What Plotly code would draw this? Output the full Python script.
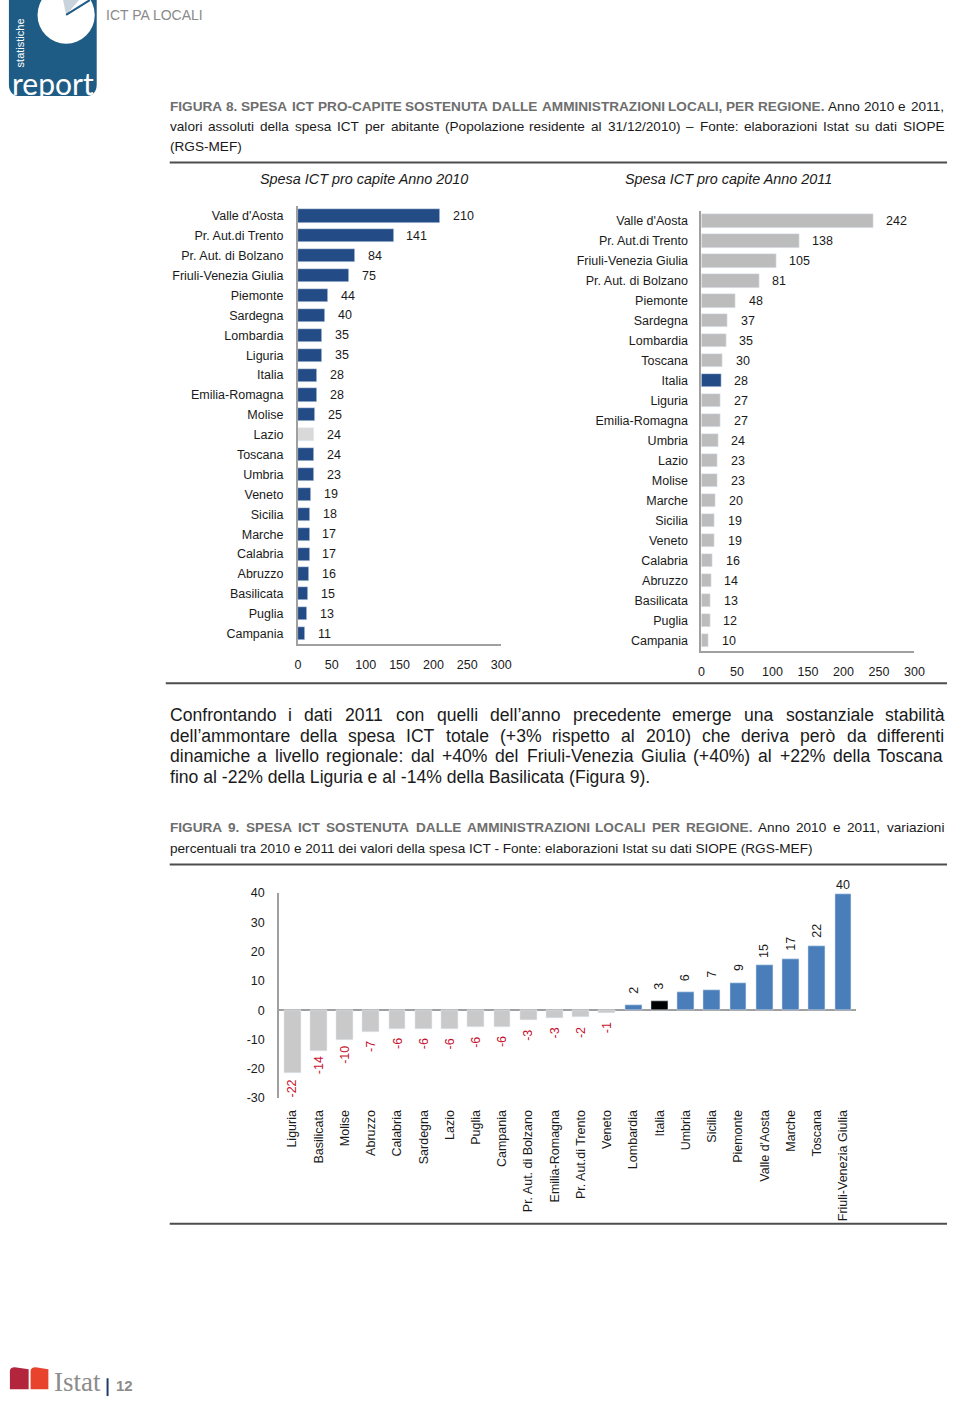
import plotly.graph_objects as go

W, H = 960, 1409
M = 0
FW, FH = W - 2 * M, H - 2 * M


def fx(x):
    return (x - M) / FW


def fy(y):
    return 1 - (y - M) / FH


FONT = "Liberation Sans, Arial, sans-serif"

# ---------------- DATA ----------------
regions_2010 = ["Valle d'Aosta", "Pr. Aut.di Trento", "Pr. Aut. di Bolzano", "Friuli-Venezia Giulia",
                "Piemonte", "Sardegna", "Lombardia", "Liguria", "Italia", "Emilia-Romagna", "Molise",
                "Lazio", "Toscana", "Umbria", "Veneto", "Sicilia", "Marche", "Calabria", "Abruzzo",
                "Basilicata", "Puglia", "Campania"]
values_2010 = [210, 141, 84, 75, 44, 40, 35, 35, 28, 28, 25, 24, 24, 23, 19, 18, 17, 17, 16, 15, 13, 11]

regions_2011 = ["Valle d'Aosta", "Pr. Aut.di Trento", "Friuli-Venezia Giulia", "Pr. Aut. di Bolzano",
                "Piemonte", "Sardegna", "Lombardia", "Toscana", "Italia", "Liguria", "Emilia-Romagna",
                "Umbria", "Lazio", "Molise", "Marche", "Sicilia", "Veneto", "Calabria", "Abruzzo",
                "Basilicata", "Puglia", "Campania"]
values_2011 = [242, 138, 105, 81, 48, 37, 35, 30, 28, 27, 27, 24, 23, 23, 20, 19, 19, 16, 14, 13, 12, 10]

regions_var = ["Liguria", "Basilicata", "Molise", "Abruzzo", "Calabria", "Sardegna", "Lazio", "Puglia",
               "Campania", "Pr. Aut. di Bolzano", "Emilia-Romagna", "Pr. Aut.di Trento", "Veneto",
               "Lombardia", "Italia", "Umbria", "Sicilia", "Piemonte", "Valle d'Aosta", "Marche",
               "Toscana", "Friuli-Venezia Giulia"]
values_var = [-21.5, -13.8, -10.2, -7.4, -6.3, -6.3, -6.3, -5.7, -5.7, -3.5, -2.6, -2.4, -1.0,
              1.6, 3.1, 6.1, 7.0, 9.4, 15.3, 17.5, 22.0, 39.8]
labels_var = ["-22", "-14", "-10", "-7", "-6", "-6", "-6", "-6", "-6", "-3", "-3", "-2", "-1",
              "2", "3", "6", "7", "9", "15", "17", "22", "40"]

x_ticks_fig8 = [0, 50, 100, 150, 200, 250, 300]
y_ticks_fig9 = [-30, -20, -10, 0, 10, 20, 30, 40]
y_ticktext_fig9 = ["-30", "-20", "-10", "0", "10", "20", "30", "40"]

# ---------------- COLOURS ----------------
DARK_BLUE = "#234b85"
LIGHT_GREY = "#d9d9d9"
MID_GREY = "#bcbcbc"
NEG_GREY = "#c9c9c9"
POS_BLUE = "#4a7ebb"
RED = "#c8102e"
AXIS = "#a0a0a0"
TXT = "#1a1a1a"
GREY_T = "#6e6e6e"
FS = 12.5

col_2010 = [LIGHT_GREY if r == "Lazio" else DARK_BLUE for r in regions_2010]
col_2011 = [DARK_BLUE if r == "Italia" else MID_GREY for r in regions_2011]
col_var = ["#000000" if r == "Italia" else (NEG_GREY if v < 0 else POS_BLUE)
           for r, v in zip(regions_var, values_var)]

fig = go.Figure()
fig.add_trace(go.Bar(x=values_2010, y=regions_2010, orientation="h", marker_color=col_2010,
                     width=0.66, xaxis="x", yaxis="y", hoverinfo="x+y"))
fig.add_trace(go.Bar(x=values_2011, y=regions_2011, orientation="h", marker_color=col_2011,
                     width=0.66, xaxis="x2", yaxis="y2", hoverinfo="x+y"))
fig.add_trace(go.Bar(x=regions_var, y=values_var, marker_color=col_var,
                     width=0.64, xaxis="x3", yaxis="y3", hoverinfo="x+y"))

annotations = []

for r, v in zip(regions_2010, values_2010):
    annotations.append(dict(x=v, y=r, xref="x", yref="y", text=str(v), showarrow=False,
                            xanchor="left", xshift=11, font=dict(family=FONT, size=FS, color=TXT)))
for r, v in zip(regions_2011, values_2011):
    annotations.append(dict(x=v, y=r, xref="x2", yref="y2", text=str(v), showarrow=False,
                            xanchor="left", xshift=11, font=dict(family=FONT, size=FS, color=TXT)))

for i, (r, v, lab) in enumerate(zip(regions_var, values_var, labels_var)):
    last = i == len(regions_var) - 1
    if v < 0:
        annotations.append(dict(x=r, y=v, xref="x3", yref="y3", text=lab, showarrow=False,
                                textangle=-90, yanchor="middle", yshift=-15,
                                font=dict(family=FONT, size=FS, color=RED)))
    else:
        annotations.append(dict(x=r, y=v, xref="x3", yref="y3", text=lab, showarrow=False,
                                textangle=0 if last else -90, yanchor="middle",
                                yshift=9 if last else 15,
                                font=dict(family=FONT, size=FS, color=TXT)))


def text(x, y, s, size=12.5, color=TXT, anchor="left", family=FONT, angle=0):
    annotations.append(dict(x=fx(x), y=fy(y), xref="paper", yref="paper", text=s, showarrow=False,
                            xanchor=anchor, yanchor="middle", textangle=angle, borderpad=0,
                            borderwidth=0, font=dict(family=family, size=size, color=color)))


# Arial / Liberation Sans advance widths (1/1000 em), used to justify text lines
REG = dict(zip("abcdefghijklmnopqrstuvwxyz",
               [556, 556, 500, 556, 556, 278, 556, 556, 222, 222, 500, 222, 833, 556, 556, 556, 556,
                333, 500, 278, 556, 500, 722, 500, 500, 500]))
REG.update(zip("ABCDEFGHIJKLMNOPQRSTUVWXYZ",
               [667, 667, 722, 722, 667, 611, 778, 722, 278, 500, 667, 556, 833, 722, 778, 667, 778,
                722, 667, 611, 722, 667, 944, 667, 667, 611]))
REG.update({c: 556 for c in "0123456789"})
REG.update({" ": 278, ".": 278, ",": 278, ":": 278, ";": 278, "(": 333, ")": 333, "/": 278, "-": 333,
            "–": 556, "’": 222, "'": 191, "+": 584, "%": 889, "à": 556, "ò": 556, "è": 556, "é": 556})
BOLD = dict(REG)
BOLD.update(zip("ABCDEFGHIJKLMNOPQRSTUVWXYZ",
                [722, 722, 722, 722, 667, 611, 778, 722, 278, 556, 722, 611, 833, 722, 778, 667, 778,
                 722, 667, 611, 722, 667, 944, 667, 667, 611]))


def wwidth(w, size, bold):
    tbl = BOLD if bold else REG
    return sum(tbl.get(c, 556) for c in w) * size / 1000


def jline(y, segments, size, x0=169, x1=954):
    words = []
    for seg, bold in segments:
        for w in seg.split():
            words.append((w, bold))
    widths = [wwidth(w, size, b) for w, b in words]
    gap = (x1 - x0 - sum(widths)) / (len(words) - 1)
    x = x0
    for (w, b), wd in zip(words, widths):
        s = f"<b>{w}</b>" if b else w
        text(x, y, s, size=size, color=GREY_T if b else TXT)
        x += wd + gap


TS = 13.6
text(104, 8, "ICT PA LOCALI", size=14, color="#8a8a8a")
jline(101, [("FIGURA 8. SPESA ICT PRO-CAPITE SOSTENUTA DALLE AMMINISTRAZIONI LOCALI, PER REGIONE.", True),
            ("Anno 2010 e 2011,", False)], TS)
jline(121, [("valori assoluti della spesa ICT per abitante (Popolazione residente al 31/12/2010) – "
             "Fonte: elaborazioni Istat su dati SIOPE", False)], TS)
text(169, 141, "(RGS-MEF)", size=TS)
text(366, 174, "<i>Spesa ICT pro capite Anno 2010</i>", size=14.4, anchor="center")
text(735, 174, "<i>Spesa ICT pro capite Anno 2011</i>", size=14.4, anchor="center")

PS = 17.6
para = ["Confrontando i dati 2011 con quelli dell’anno precedente emerge una sostanziale stabilità",
        "dell’ammontare della spesa ICT totale (+3% rispetto al 2010) che deriva però da differenti",
        "dinamiche a livello regionale: dal +40% del Friuli-Venezia Giulia (+40%) al +22% della Toscana",
        "fino al -22% della Liguria e al -14% della Basilicata (Figura 9)."]
for i, line in enumerate(para):
    if i < 3:
        jline(715 + 21 * i, [(line, False)], PS)
    else:
        text(169, 715 + 21 * i, line, size=PS)

jline(829, [("FIGURA 9. SPESA ICT SOSTENUTA DALLE AMMINISTRAZIONI LOCALI PER REGIONE.", True),
            ("Anno 2010 e 2011, variazioni", False)], TS)
text(169, 850, "percentuali tra 2010 e 2011 dei valori della spesa ICT - Fonte: elaborazioni Istat "
               "su dati SIOPE (RGS-MEF)", size=TS)

# logo texts
text(17, 36, "statistiche", size=11, color="white", anchor="center", angle=-90)
text(51, 77, "report", size=30, color="white", anchor="center",
     family="Lato, Liberation Sans, sans-serif")
text(52, 1389, "Istat", size=27, color="#8c8c8c", family="Liberation Serif, DejaVu Serif, serif")
text(115, 1392, "<b>12</b>", size=15, color="#8c8c8c")

shapes = []


def hline(y, x0, x1, color="#4d4d4d", w=2):
    shapes.append(dict(type="line", xref="paper", yref="paper", x0=fx(x0), x1=fx(x1), y0=fy(y), y1=fy(y),
                       line=dict(color=color, width=w)))


hline(157, 169, 957)
hline(683, 165, 957)
hline(866, 169, 957)
hline(1229, 169, 957)

# report logo (rounded square with pie)
r = 12
x0, x1, y0, y1 = 6, 95, -10, 90
d = (f"M{fx(x0)},{fy(y0)} L{fx(x1)},{fy(y0)} L{fx(x1)},{fy(y1 - r)} "
     f"Q{fx(x1)},{fy(y1)} {fx(x1 - r)},{fy(y1)} L{fx(x0 + r)},{fy(y1)} "
     f"Q{fx(x0)},{fy(y1)} {fx(x0)},{fy(y1 - r)} Z")
shapes.append(dict(type="path", xref="paper", yref="paper", path=d, fillcolor="#1f5c85",
                   line=dict(width=0), layer="below"))
shapes.append(dict(type="circle", xref="paper", yref="paper", x0=fx(35), x1=fx(93), y0=fy(37), y1=fy(-21),
                   fillcolor="white", line=dict(width=0), layer="below"))
d = f"M{fx(64)},{fy(8)} L{fx(58)},{fy(-21)} L{fx(84)},{fy(-15)} Z"
shapes.append(dict(type="path", xref="paper", yref="paper", path=d, fillcolor="#c9d3dc",
                   line=dict(width=0), layer="below"))
shapes.append(dict(type="line", xref="paper", yref="paper", x0=fx(64), y0=fy(8), x1=fx(88), y1=fy(-7),
                   line=dict(color="#1f5c85", width=2), layer="below"))

# Istat logo blocks
d = (f"M{fx(7)},{fy(1396)} L{fx(7)},{fy(1378)} Q{fx(7)},{fy(1374)} {fx(12)},{fy(1374)} "
     f"L{fx(26)},{fy(1376)} L{fx(26)},{fy(1396)} Z")
shapes.append(dict(type="path", xref="paper", yref="paper", path=d, fillcolor="#b3253c", line=dict(width=0)))
d = (f"M{fx(28)},{fy(1396)} L{fx(28)},{fy(1378)} Q{fx(28)},{fy(1374)} {fx(33)},{fy(1374)} "
     f"L{fx(46)},{fy(1376)} L{fx(46)},{fy(1396)} Z")
shapes.append(dict(type="path", xref="paper", yref="paper", path=d, fillcolor="#e8432c", line=dict(width=0)))
shapes.append(dict(type="line", xref="paper", yref="paper", x0=fx(106), x1=fx(106), y0=fy(1385), y1=fy(1403),
                   line=dict(color="#1f3d6b", width=2)))

tickfont = dict(family=FONT, size=FS, color=TXT)
hidden_tick = dict(ticks="outside", tickcolor="rgba(0,0,0,0)")

fig.update_layout(
    width=FW, height=FH, autosize=False, margin=dict(l=0, r=0, t=0, b=0, pad=0),
    paper_bgcolor="white", plot_bgcolor="white", showlegend=False, bargap=0,
    font=dict(family=FONT, size=FS, color=TXT),
    annotations=annotations, shapes=shapes,
    xaxis=dict(domain=[fx(299), fx(505)], range=[0, 300], tickvals=x_ticks_fig8, showgrid=False,
               zeroline=False, showline=True, linecolor=AXIS, linewidth=2, tickfont=tickfont,
               ticklen=8, anchor="y", fixedrange=True, **hidden_tick),
    yaxis=dict(domain=[fy(643), fy(201)], type="category", categoryorder="array",
               categoryarray=regions_2010, autorange="reversed", showgrid=False, zeroline=False,
               showline=True, linecolor=AXIS, linewidth=2, tickfont=tickfont, ticklen=10,
               anchor="x", fixedrange=True, **hidden_tick),
    xaxis2=dict(domain=[fx(708), fx(924)], range=[0, 300], tickvals=x_ticks_fig8, showgrid=False,
                zeroline=False, showline=True, linecolor=AXIS, linewidth=2, tickfont=tickfont,
                ticklen=8, anchor="y2", fixedrange=True, **hidden_tick),
    yaxis2=dict(domain=[fy(650), fy(206)], type="category", categoryorder="array",
                categoryarray=regions_2011, autorange="reversed", showgrid=False, zeroline=False,
                showline=True, linecolor=AXIS, linewidth=2, tickfont=tickfont, ticklen=9,
                anchor="x2", fixedrange=True, **hidden_tick),
    xaxis3=dict(domain=[fx(280), fx(865)], type="category", categoryorder="array",
                categoryarray=regions_var, tickangle=-90, showgrid=False, zeroline=False,
                showline=False, tickfont=tickfont, ticklen=6, anchor="y3", fixedrange=True,
                **hidden_tick),
    yaxis3=dict(domain=[fy(1102), fy(895)], range=[-30, 40], tickvals=y_ticks_fig9,
                ticktext=y_ticktext_fig9, showgrid=False, zeroline=True, zerolinecolor=AXIS,
                zerolinewidth=2, showline=True, linecolor=AXIS, linewidth=2, tickfont=tickfont,
                ticklen=10, anchor="x3", fixedrange=True, **hidden_tick),
)

fig.write_html("out.html", config={"displayModeBar": False},
               post_script="document.body.style.margin='0';document.body.style.overflow='hidden';")
